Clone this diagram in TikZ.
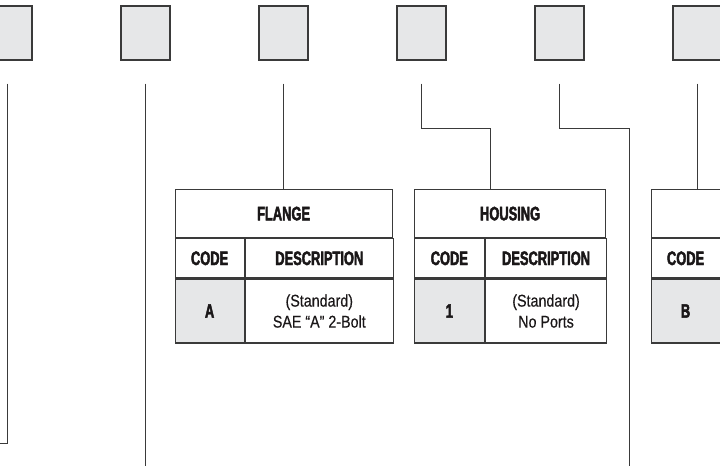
\documentclass[tikz,border=0pt]{standalone}
\usepackage{fontspec}
\setmainfont{Liberation Sans}[FakeStretch=0.84,FakeBold=0.4]
\newfontfamily\condbf{Liberation Sans}[FakeStretch=0.66,FakeBold=2.2]
\usetikzlibrary{positioning}
\definecolor{boxgray}{HTML}{E6E7E8}
\definecolor{linegray}{HTML}{3A3A3A}
\definecolor{ink}{HTML}{1A1718}
\tikzset{
  casella/.style={draw=linegray, fill=boxgray, line width=1.3pt,
    minimum width=49pt, minimum height=54pt, inner sep=0pt},
  cella/.style={draw=linegray, line width=1.2pt, inner sep=0pt,
    anchor=north west, text=ink},
  intest/.style={cella, font=\condbf\bfseries\fontsize{19.5}{21}\selectfont},
  dati/.style={cella, align=center, font=\fontsize{17}{21}\selectfont},
  grigia/.style={fill=boxgray},
  linea/.style={draw=linegray, line width=1pt},
}
\begin{document}
\begin{tikzpicture}[x=1pt,y=-1pt]
                \useasboundingbox (0,0) rectangle (720,466);
                %caselle
                \node[casella] (box1) at (7.5,33) {};
                \node[casella] (box2) at (145.5,33) {};
                \node[casella] (box3) at (283.5,33) {};
                \node[casella] (box4) at (421.5,33) {};
                \node[casella] (box5) at (559.5,33) {};
                \node[casella] (box6) at (697.5,33) {};
                %tabella flange
                \node[intest, minimum width=217pt, minimum height=48pt] (fltitle) at (174.5,189) {FLANGE};
                \node[intest, minimum width=69pt, minimum height=39pt] (flcode) at (fltitle.south west) {CODE};
                \node[intest, minimum width=148pt, minimum height=39pt] (fldesc) at (flcode.north east) {DESCRIPTION};
                \node[intest, grigia, minimum width=69pt, minimum height=64pt] (flA) at (flcode.south west) {A};
                \node[dati, minimum width=148pt, minimum height=64pt] (fldata) at (flA.north east) {(Standard)\\SAE “A” 2-Bolt};
                %tabella housing
                \node[intest, minimum width=191pt, minimum height=48pt] (hstitle) at (414,189) {HOUSING};
                \node[intest, minimum width=69.5pt, minimum height=39pt] (hscode) at (hstitle.south west) {CODE};
                \node[intest, minimum width=121.5pt, minimum height=39pt] (hsdesc) at (hscode.north east) {DESCRIPTION};
                \node[intest, grigia, minimum width=69.5pt, minimum height=64pt] (hsone) at (hscode.south west) {1};
                \node[dati, minimum width=121.5pt, minimum height=64pt] (hsdata) at (hsone.north east) {(Standard)\\No Ports};
                %tabella tagliata a destra
                \node[intest, minimum width=217pt, minimum height=48pt] (tbtitle) at (650.5,189) {};
                \node[intest, minimum width=69pt, minimum height=39pt] (tbcode) at (tbtitle.south west) {CODE};
                \node[intest, minimum width=148pt, minimum height=39pt] (tbdesc) at (tbcode.north east) {};
                \node[intest, grigia, minimum width=69pt, minimum height=64pt] (tbB) at (tbcode.south west) {B};
                \node[dati, minimum width=148pt, minimum height=64pt] (tbdata) at (tbB.north east) {};
                %estremi liberi
                \coordinate (fine1) at (0,443);
                \coordinate (fondo) at (0,466);
                \coordinate (fine5) at (629,466);
                %linee
                \draw[linea] ([yshift=-23pt]box1.south) |- (fine1);
                \draw[linea] ([yshift=-23pt]box2.south) -- (box2.south |- fondo);
                \draw[linea] ([yshift=-23pt]box3.south) -- (box3.south |- fltitle.north);
                \draw[linea] ([yshift=-23pt]box4.south) -- ++(0,45) -| ([xshift=-20pt]hstitle.north);
                \draw[linea] ([yshift=-23pt]box5.south) -- ++(0,45) -| (fine5);
                \draw[linea] ([yshift=-23pt]box6.south) -- (box6.south |- tbtitle.north);
\end{tikzpicture}
\end{document}
